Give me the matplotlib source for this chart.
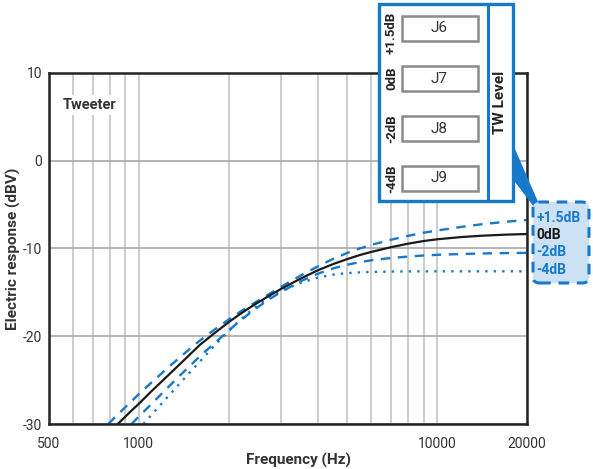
import matplotlib
matplotlib.use("Agg")
import matplotlib.pyplot as plt
from matplotlib.ticker import FixedLocator, NullFormatter, FixedFormatter
from matplotlib.patches import Rectangle, Polygon, FancyBboxPatch

plt.rcParams['font.family'] = ['Roboto', 'DejaVu Sans']
plt.rcParams['axes.unicode_minus'] = False

BLUE = '#1679c9'
TXT = '#333333'

# curves (frequency in Hz, response in dBV)
f_0db = [850, 950, 1000, 1100, 1250, 1400, 1600, 1800, 2000, 2200, 2400, 2700, 3000, 3500,
         4000, 4500, 5000, 5500, 6000, 7000, 8000, 9000, 10000, 12000, 14000, 17000, 20000]
v_0db = [-30.0, -28.4, -27.7, -26.3, -24.5, -22.9, -21.0, -19.6, -18.4, -17.4, -16.55, -15.5, -14.6, -13.4,
         -12.45, -11.75, -11.2, -10.75, -10.4, -9.85, -9.45, -9.15, -8.95, -8.7, -8.55, -8.42, -8.35]

f_p15 = [790, 900, 1000, 1100, 1250, 1400, 1600, 1800, 2000, 2200, 2400, 2700, 3000, 3500,
         4000, 4500, 5000, 5500, 6000, 7000, 8000, 9000, 10000, 12000, 14000, 17000, 20000]
v_p15 = [-30.0, -28.1, -26.6, -25.3, -23.6, -22.15, -20.5, -19.2, -18.1, -17.15, -16.35, -15.3, -14.35, -13.05,
         -12.0, -11.15, -10.5, -10.0, -9.6, -9.0, -8.55, -8.2, -7.95, -7.55, -7.25, -6.95, -6.75]

f_m2 = [945, 1000, 1100, 1250, 1400, 1600, 1800, 2000, 2200, 2400, 2700, 3000, 3500,
        4000, 4500, 5000, 5500, 6000, 7000, 8000, 9000, 10000, 12000, 14000, 17000, 20000]
v_m2 = [-30.0, -29.15, -27.75, -25.85, -24.2, -22.3, -20.75, -19.35, -18.15, -17.15, -15.9, -14.95, -13.7,
        -12.85, -12.25, -11.85, -11.55, -11.35, -11.08, -10.92, -10.8, -10.72, -10.63, -10.57, -10.52, -10.5]

f_m4 = [1035, 1100, 1250, 1400, 1600, 1800, 2000, 2200, 2400, 2700, 3000, 3500,
        4000, 4500, 5000, 5500, 6000, 7000, 8000, 10000, 14000, 20000]
v_m4 = [-30.0, -29.0, -26.9, -25.05, -22.9, -21.0, -19.4, -18.05, -16.95, -15.7, -14.8, -13.9,
        -13.3, -12.97, -12.8, -12.72, -12.67, -12.63, -12.61, -12.6, -12.6, -12.6]

x_ticks = [500, 1000, 10000, 20000]
x_minor = [600, 700, 800, 900, 2000, 3000, 4000, 5000, 6000, 7000, 8000, 9000]
y_ticks = [-30, -20, -10, 0, 10]

W, H = 593, 469
fig = plt.figure(figsize=(W / 100, H / 100), dpi=100)
ax = fig.add_axes([49 / W, 1 - 424 / H, 478 / W, 351 / H])


def px(x, y):
    return (x / W, 1 - y / H)


ax.set_xscale('log')
ax.set_xlim(500, 20000)
ax.set_ylim(-30, 10)
ax.xaxis.set_major_locator(FixedLocator(x_ticks))
ax.xaxis.set_major_formatter(FixedFormatter([str(t) for t in x_ticks]))
ax.xaxis.set_minor_locator(FixedLocator(x_minor))
ax.xaxis.set_minor_formatter(NullFormatter())
ax.set_yticks(y_ticks)
ax.tick_params(which='both', length=0, labelsize=10, labelcolor=TXT)
ax.tick_params(axis='x', pad=9)
ax.tick_params(axis='y', pad=5)
ax.grid(True, which='both', axis='x', color='#c4c4c4', lw=1.2)
ax.grid(True, which='major', axis='y', color='#a8a8a8', lw=1.2)
for s in ax.spines.values():
    s.set_linewidth(1.8)
    s.set_color('#222222')

ax.plot(f_p15, v_p15, color=BLUE, lw=1.7, dashes=(4, 3.2))
ax.plot(f_m2, v_m2, color=BLUE, lw=1.7, dashes=(4, 3.2))
ax.plot(f_m4, v_m4, color=BLUE, lw=1.7, dashes=(1, 2.6))
ax.plot(f_0db, v_0db, color='#1a1a1a', lw=1.6)

ax.text(0.084, 0.909, 'Tweeter', transform=ax.transAxes, ha='center', va='center',
        fontsize=10.5, fontweight='bold', color=TXT,
        bbox=dict(facecolor='white', edgecolor='none', pad=2))

ax.set_xlabel('Frequency (Hz)', fontsize=11, fontweight='bold', color=TXT, labelpad=2)
ax.xaxis.label.set_x(0.523)
ax.set_ylabel('Electric response (dBV)', fontsize=11, fontweight='bold', color=TXT, labelpad=1)

# jumper panel
fig.add_artist(Rectangle(px(379, 201), 134 / W, 197 / H, transform=fig.transFigure,
                         facecolor='white', edgecolor=BLUE, lw=2.4, zorder=5))
fig.add_artist(plt.Line2D([487.5 / W] * 2, [1 - 4 / H, 1 - 201 / H], transform=fig.transFigure,
                          color=BLUE, lw=2.2, zorder=6))
levels = ['+1.5dB', '0dB', '-2dB', '-4dB']
jumpers = ['J6', 'J7', 'J8', 'J9']
label_y = [33, 78, 129, 179]
for i, (lv, jp) in enumerate(zip(levels, jumpers)):
    top = 16 + 50 * i
    fig.add_artist(Rectangle(px(402, top + 25), 75.5 / W, 25 / H, transform=fig.transFigure,
                             facecolor='white', edgecolor='#8a8a8a', lw=1.8, zorder=6))
    fig.text(*px(439.5, top + 12.5), jp, ha='center', va='center', fontsize=11,
             color=TXT, zorder=7)
    fig.text(*px(391.5, label_y[i]), lv, ha='center', va='center', rotation=90,
             fontsize=9.5, fontweight='bold', color='#222222', zorder=7)
fig.text(*px(500, 102), 'TW Level', ha='center', va='center', rotation=90,
         fontsize=11, fontweight='bold', color='#222222', zorder=7)

# pointer wedge
fig.add_artist(Polygon([px(512, 149), px(515, 149), px(539, 204), px(534, 207), px(512, 178)],
                       closed=True, transform=fig.transFigure, facecolor=BLUE,
                       edgecolor='none', zorder=6))

# level legend box
fig.add_artist(FancyBboxPatch(px(533, 283), 56 / W, 81 / H, transform=fig.transFigure,
                              boxstyle='round,pad=0,rounding_size=0.012',
                              facecolor='#cde1f4', edgecolor=BLUE, lw=2.2,
                              linestyle=(0, (3.5, 2.5)), zorder=6))
legend_y = [218, 235, 252, 270]
legend_c = [BLUE, '#1a1a1a', BLUE, BLUE]
for lv, yy, cc in zip(levels, legend_y, legend_c):
    fig.text(*px(536.5, yy), lv, ha='left', va='center', fontsize=10,
             fontweight='bold', color=cc, zorder=7)

fig.savefig('out.png', dpi=100)
plt.close()
